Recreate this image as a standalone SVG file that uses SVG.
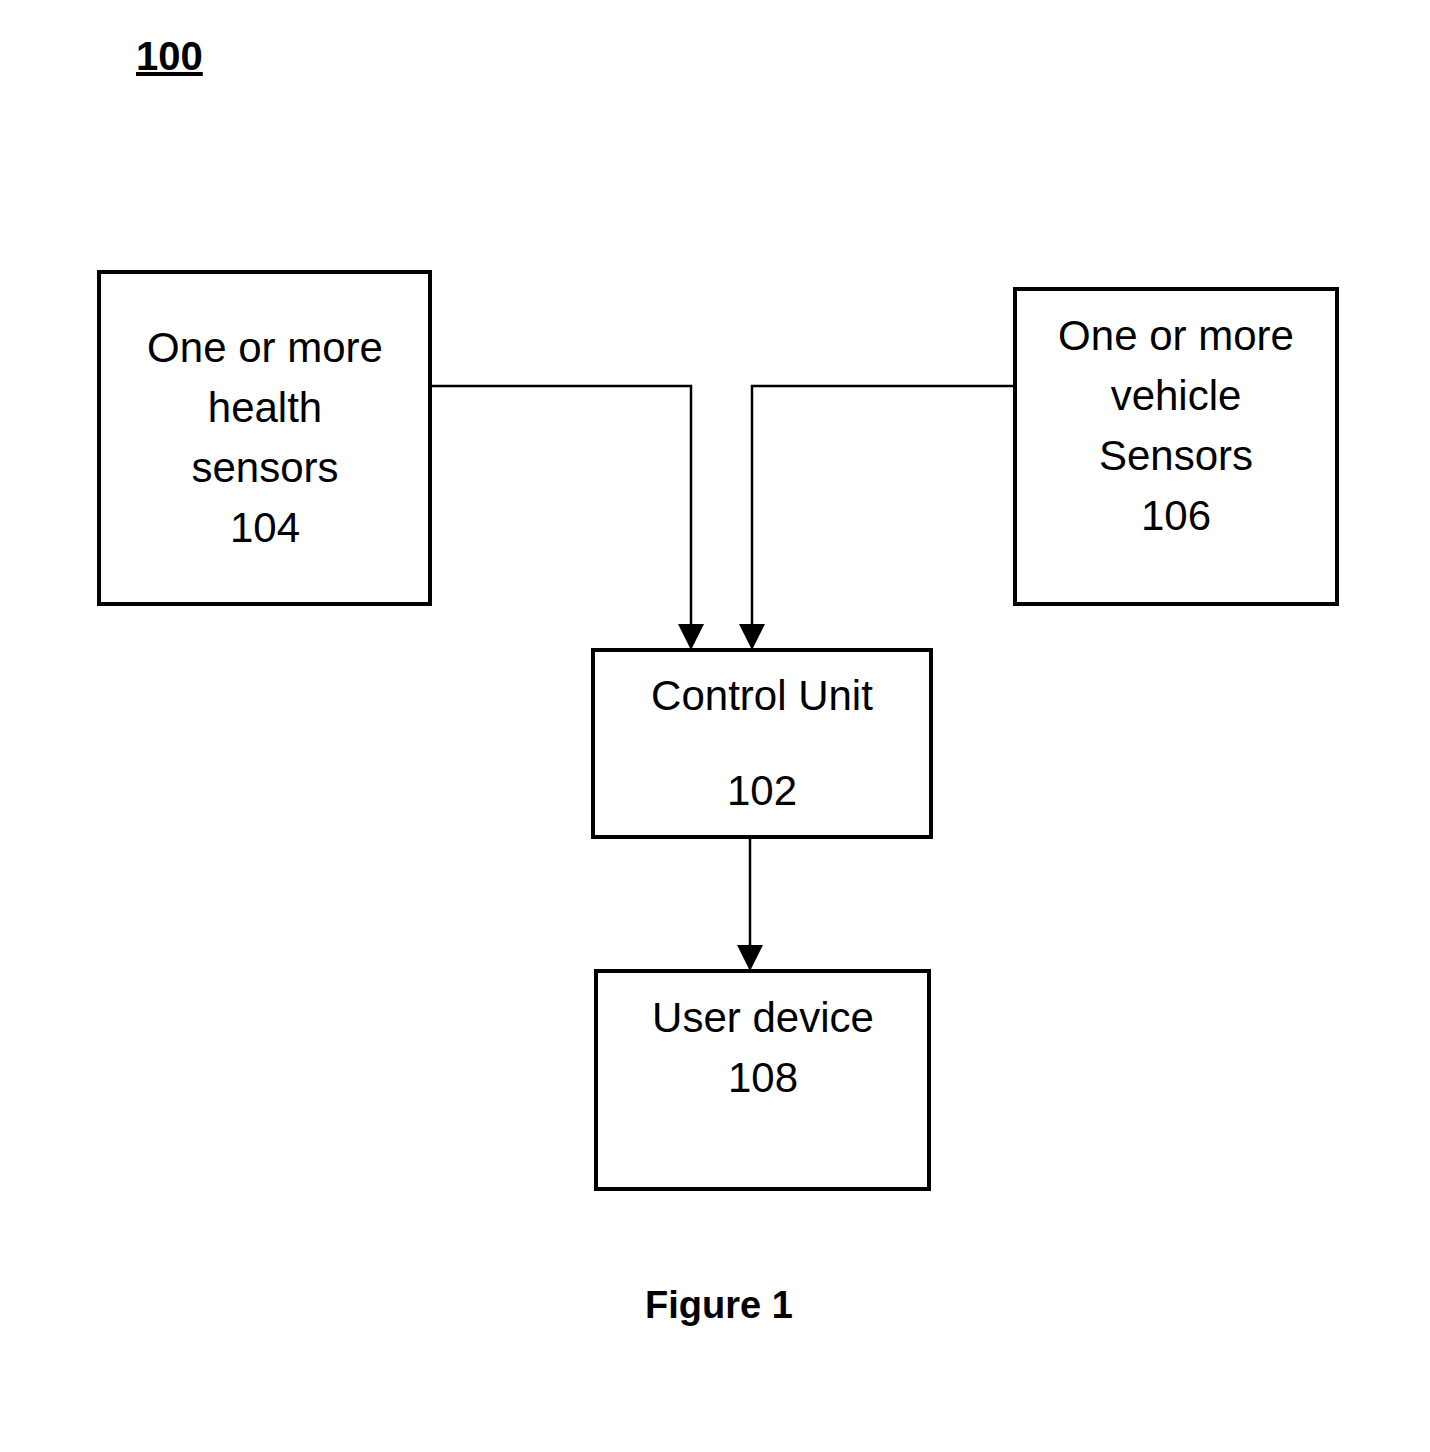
<svg xmlns="http://www.w3.org/2000/svg" width="1430" height="1452" viewBox="0 0 1430 1452">
<style>
.box{fill:#fff;stroke:#000;stroke-width:4}
.t{font-family:"Liberation Sans",Arial,sans-serif;font-size:42px;fill:#000;text-anchor:middle}
.b{font-family:"Liberation Sans",Arial,sans-serif;font-weight:bold;fill:#000}
.c{fill:none;stroke:#000;stroke-width:2.5}
</style>
<rect width="1430" height="1452" fill="#fff"/>
<text class="b" x="136" y="70" font-size="40" text-decoration="underline">100</text>
<g id="connectors">
<path class="c" d="M430,386 H691 V624"/>
<polygon points="678,624 704,624 691,650" fill="#000"/>
<path class="c" d="M1015,386 H752 V624"/>
<polygon points="739,624 765,624 752,650" fill="#000"/>
<path class="c" d="M750,837 V945"/>
<polygon points="737,945 763,945 750,971" fill="#000"/>
</g>
<g id="n104">
<rect class="box" x="99" y="272" width="331" height="332"/>
<text class="t" x="265" y="362">One or more</text>
<text class="t" x="265" y="422">health</text>
<text class="t" x="265" y="482">sensors</text>
<text class="t" x="265" y="542">104</text>
</g>
<g id="n106">
<rect class="box" x="1015" y="289" width="322" height="315"/>
<text class="t" x="1176" y="350">One or more</text>
<text class="t" x="1176" y="410">vehicle</text>
<text class="t" x="1176" y="470">Sensors</text>
<text class="t" x="1176" y="530">106</text>
</g>
<g id="n102">
<rect class="box" x="593" y="650" width="338" height="187"/>
<text class="t" x="762" y="710">Control Unit</text>
<text class="t" x="762" y="805">102</text>
</g>
<g id="n108">
<rect class="box" x="596" y="971" width="333" height="218"/>
<text class="t" x="763" y="1032">User device</text>
<text class="t" x="763" y="1092">108</text>
</g>
<text class="b" x="719" y="1318" font-size="38" text-anchor="middle">Figure 1</text>
</svg>
